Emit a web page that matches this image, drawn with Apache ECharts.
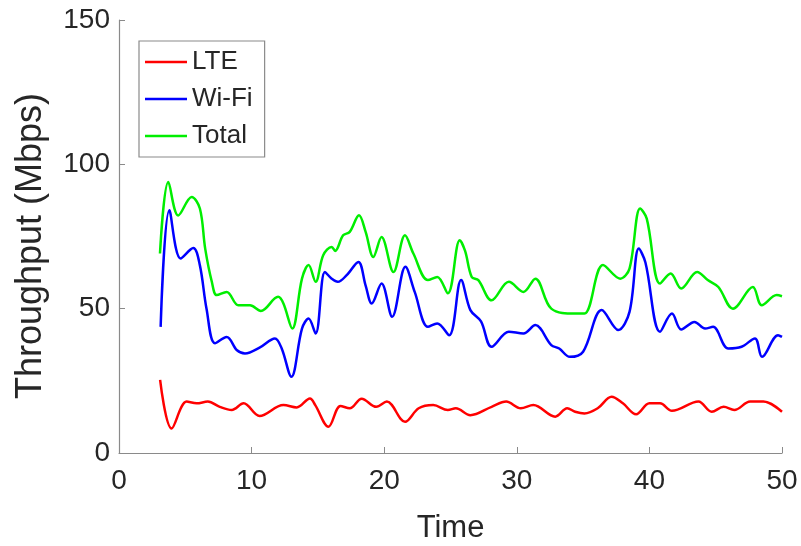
<!DOCTYPE html>
<html>
<head>
<meta charset="utf-8">
<script src="https://cdn.jsdelivr.net/npm/echarts@6/dist/echarts.min.js"></script>
<style>
  html, body { margin: 0; padding: 0; background: #fff; }
  #chart { width: 801px; height: 546px; }
</style>
</head>
<body>
<div id="chart"></div>
<script>
// Throughput over time
const lteTime = [3.1, 3.97, 5.1, 5.86, 6.7, 7.6, 8.5, 9.4, 10.6, 12.4, 13.4, 14.4, 14.8, 15.8, 16.7, 17.4, 18.3, 19.4, 20.2, 21.57, 22.6, 23.7, 24.8, 25.4, 26.5, 28.1, 29.2, 30.3, 31.25, 32.9, 33.8, 34.4, 35.1, 36.1, 37.15, 38.0, 39.0, 40.0, 40.8, 41.7, 43.7, 44.7, 45.6, 46.4, 47.6, 48.6, 50];
const lteValues = [25.3, 8.5, 17.8, 17.2, 17.8, 16.0, 14.9, 17.2, 12.8, 16.6, 15.8, 18.9, 16.6, 9.1, 16.3, 15.5, 18.8, 16.0, 17.8, 10.8, 15.5, 16.6, 14.9, 15.5, 13.1, 16.0, 17.8, 15.5, 16.6, 12.6, 15.5, 14.3, 13.7, 15.5, 19.5, 17.2, 13.4, 17.2, 17.2, 14.6, 17.8, 14.3, 16.0, 14.9, 17.8, 17.8, 14.3];

const wifiTime = [3.14, 3.8, 4.65, 5.6, 6.1, 6.6, 7.24, 8.12, 8.9, 9.5, 10.6, 11.76, 12.27, 13.0, 13.8, 14.3, 14.83, 15.53, 16.04, 16.5, 17.17, 18.05, 18.6, 19.06, 19.8, 20.6, 21.6, 22.3, 23.3, 24.0, 24.9, 25.8, 26.5, 27.3, 28.1, 29.4, 30.5, 31.4, 32.6, 33.2, 34.0, 35.0, 36.4, 37.65, 38.5, 39.2, 39.7, 40.8, 41.7, 42.4, 43.4, 44.2, 44.8, 45.95, 46.95, 47.96, 48.5, 49.7, 50];
const wifiValues = [43.7, 84.1, 67.4, 71.0, 65.0, 50.0, 38.0, 40.2, 35.6, 34.5, 36.5, 39.7, 36.2, 26.4, 43.1, 46.6, 41.4, 62.7, 60.4, 59.3, 61.6, 66.2, 58.0, 51.8, 58.7, 47.2, 64.5, 55.8, 43.7, 44.9, 40.8, 59.9, 49.5, 45.6, 36.8, 42.0, 41.4, 44.3, 37.4, 36.2, 33.3, 35.1, 49.5, 42.6, 48.9, 70.8, 66.0, 42.0, 48.3, 42.8, 45.4, 43.1, 43.7, 36.2, 36.8, 39.7, 33.3, 40.8, 40.2];

const totalTime = [3.09, 3.72, 4.47, 5.48, 6.1, 6.5, 7.0, 7.37, 8.12, 9.0, 9.88, 10.7, 12.0, 12.4, 13.07, 13.8, 14.3, 14.83, 15.4, 16.04, 16.3, 16.9, 17.4, 18.1, 18.6, 19.18, 19.8, 20.7, 21.57, 22.2, 23.3, 24.0, 24.8, 25.7, 26.1, 26.6, 27.1, 28.1, 29.4, 30.5, 31.4, 32.6, 34.4, 35.1, 36.5, 37.8, 38.5, 39.3, 39.8, 40.8, 41.6, 42.4, 43.6, 44.4, 45.2, 46.3, 47.8, 48.47, 49.6, 50];
const totalValues = [69.1, 93.9, 82.3, 88.7, 84.7, 70.8, 59.3, 54.7, 55.8, 51.2, 51.2, 49.2, 54.1, 51.8, 43.1, 60.4, 65.1, 59.3, 68.5, 71.4, 70.0, 75.4, 76.6, 82.4, 76.6, 67.9, 74.8, 62.7, 75.4, 69.1, 59.9, 61.0, 55.3, 73.7, 70.0, 61.0, 59.9, 52.9, 59.3, 55.8, 60.4, 50.0, 48.3, 48.3, 65.1, 60.4, 63.9, 84.7, 81.2, 58.7, 62.2, 57.0, 62.7, 59.9, 57.5, 50.0, 57.5, 51.2, 54.7, 54.3];

const seriesNames = ['LTE', 'Wi-Fi', 'Total'];
const seriesColors = ['#ff0000', '#0000ff', '#00ee00'];
const xTicks = { min: 0, max: 50, interval: 10 };
const yTicks = { min: 0, max: 150, interval: 50 };

const FONT = '"Liberation Sans", Arial, sans-serif';
const TEXT = '#262626';
const AXIS = '#8a8a8a';

function pairs(xs, ys) {
    return xs.map((x, i) => [x, ys[i]]);
}

const chart = echarts.init(document.getElementById('chart'));

const seriesData = [
    pairs(lteTime, lteValues),
    pairs(wifiTime, wifiValues),
    pairs(totalTime, totalValues)
];

const option = {
    animation: false,
    backgroundColor: '#fff',
    grid: { left: 119, right: 19, top: 20, bottom: 93, containLabel: false, outerBoundsMode: 'none' },
    legend: {
        orient: 'vertical',
        left: 139,
        top: 41,
        data: seriesNames,
        icon: 'rect',
        itemWidth: 42,
        itemHeight: 2.5,
        itemGap: 11,
        padding: [8, 12, 8, 6],
        borderColor: AXIS,
        borderWidth: 1.2,
        textStyle: { fontFamily: FONT, fontSize: 26, color: TEXT }
    },
    xAxis: {
        type: 'value',
        min: xTicks.min,
        max: xTicks.max,
        interval: xTicks.interval,
        name: 'Time',
        nameLocation: 'middle',
        nameGap: 60,
        nameTextStyle: { fontFamily: FONT, fontSize: 31, color: TEXT },
        axisLine: { show: true, lineStyle: { color: AXIS, width: 1.2 } },
        axisTick: { show: true, inside: true, length: 6, lineStyle: { color: AXIS } },
        axisLabel: { fontFamily: FONT, fontSize: 28, color: TEXT, margin: 14 },
        splitLine: { show: false }
    },
    yAxis: {
        type: 'value',
        min: yTicks.min,
        max: yTicks.max,
        interval: yTicks.interval,
        name: 'Throughput (Mbps)',
        nameLocation: 'middle',
        nameGap: 70,
        nameTextStyle: { fontFamily: FONT, fontSize: 36, color: TEXT, padding: [0, 19, 0, 0] },
        axisLine: { show: true, lineStyle: { color: AXIS, width: 1.2 } },
        axisTick: { show: true, inside: true, length: 6, lineStyle: { color: AXIS } },
        axisLabel: { fontFamily: FONT, fontSize: 28, color: TEXT, margin: 9 },
        splitLine: { show: false }
    },
    series: seriesNames.map((name, i) => ({
        name: name,
        type: 'line',
        data: seriesData[i],
        smooth: 0.35,
        showSymbol: false,
        lineStyle: { color: seriesColors[i], width: 2.5 },
        itemStyle: { color: seriesColors[i] }
    }))
};

chart.setOption(option);
</script>
</body>
</html>
